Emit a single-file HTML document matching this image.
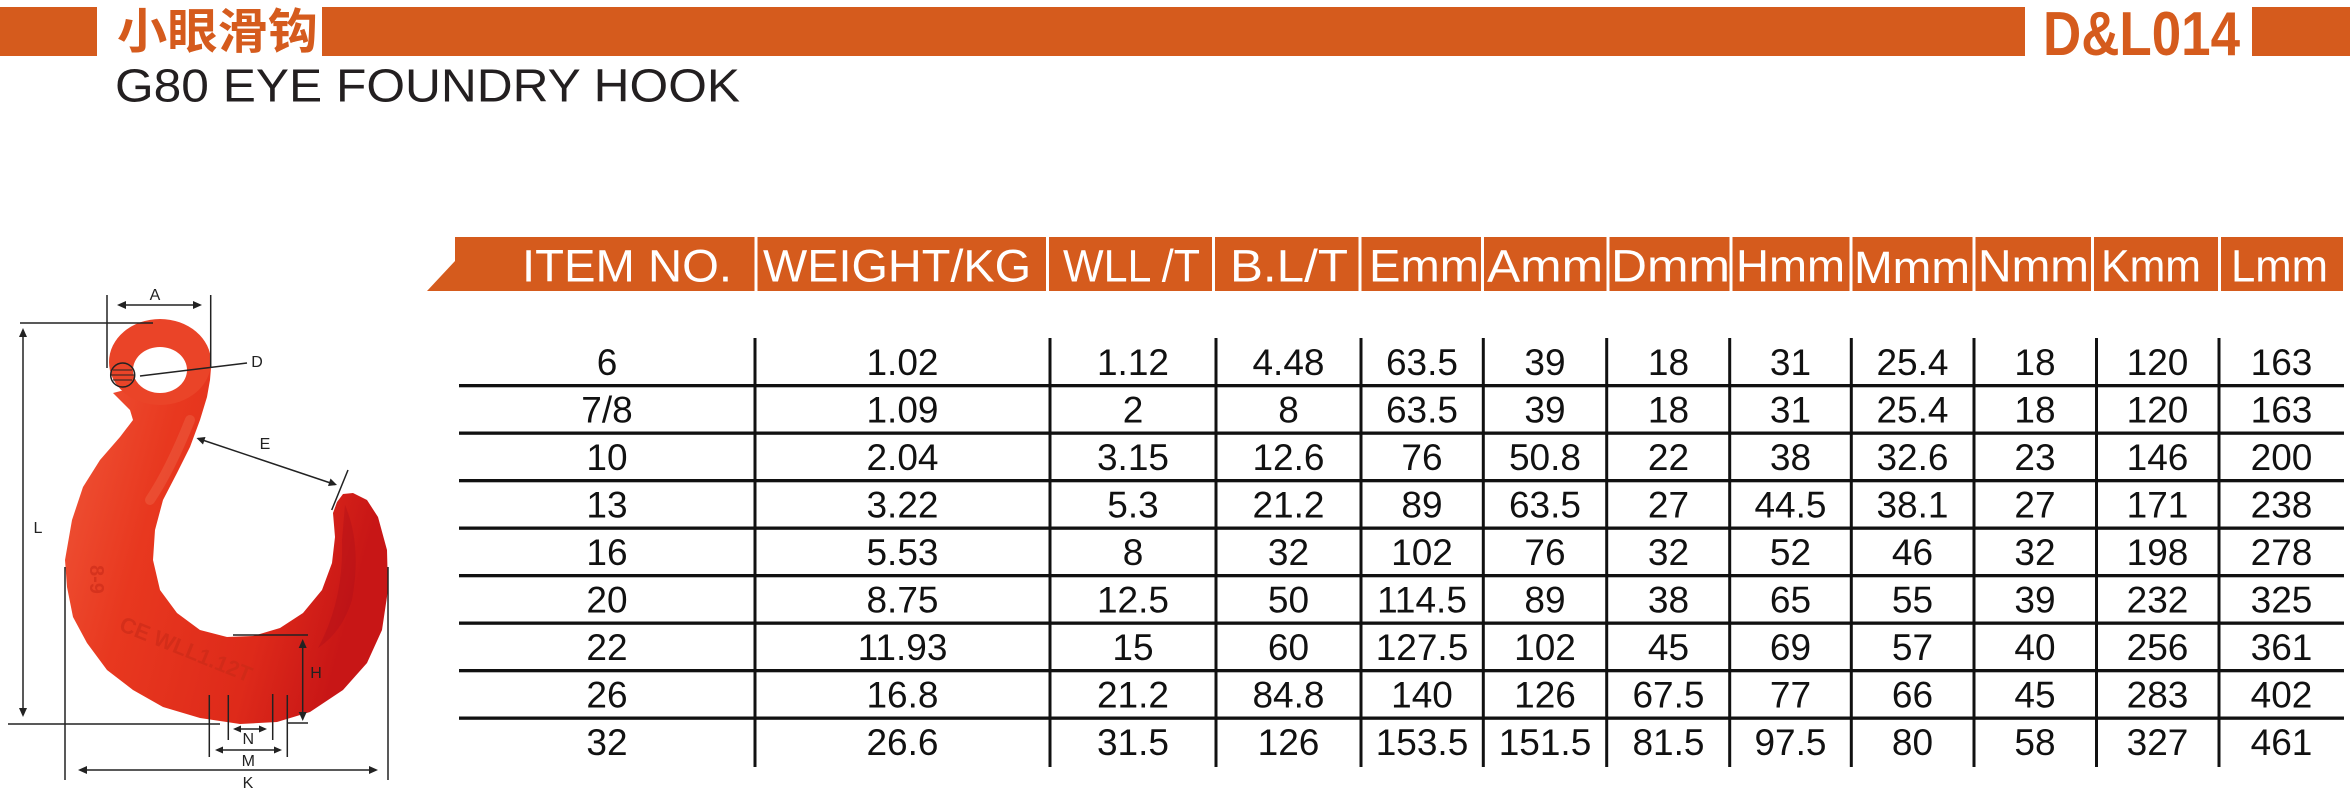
<!DOCTYPE html>
<html>
<head>
<meta charset="utf-8">
<style>
  html,body{margin:0;padding:0;background:#fff;}
  body{width:2350px;height:802px;overflow:hidden;}
  svg{display:block;}
  .hd{font-family:"Liberation Sans",sans-serif;font-size:45px;fill:#fff;}
  .bd{font-family:"Liberation Sans",sans-serif;font-size:37px;fill:#111;text-anchor:middle;}
  .lb{font-family:"Liberation Sans",sans-serif;font-size:16px;fill:#222;text-anchor:middle;}
</style>
</head>
<body>
<svg width="2350" height="802" viewBox="0 0 2350 802" xmlns="http://www.w3.org/2000/svg">
  <defs>
    <linearGradient id="hg" x1="0" y1="0" x2="1" y2="0.3">
      <stop offset="0" stop-color="#f0583a"/>
      <stop offset="0.35" stop-color="#e8381f"/>
      <stop offset="0.75" stop-color="#de2a1a"/>
      <stop offset="1" stop-color="#c81616"/>
    </linearGradient>
  </defs>

  <!-- top bar -->
  <rect x="0" y="7" width="97" height="49" fill="#d55b1d"/>
  <text x="117" y="48" font-family="'Liberation Sans','Noto Sans CJK SC',sans-serif" font-weight="700" font-size="48" fill="#d55b1d" textLength="201" lengthAdjust="spacingAndGlyphs">小眼滑钩</text>
  <rect x="322" y="7" width="1703" height="49" fill="#d55b1d"/>
  <text x="2043" y="55" font-family="'Liberation Sans',sans-serif" font-weight="700" font-size="62" fill="#d55b1d" textLength="197" lengthAdjust="spacingAndGlyphs">D&amp;L014</text>
  <rect x="2252" y="7" width="98" height="49" fill="#d55b1d"/>

  <text x="115" y="101.5" font-family="'Liberation Sans',sans-serif" font-size="46" fill="#231f20" textLength="625" lengthAdjust="spacingAndGlyphs">G80 EYE FOUNDRY HOOK</text>

  <!-- table header -->
  <path d="M455,237 H2343 V291 H427 L455,261 Z" fill="#d55b1d"/>
  <g fill="#fff">
    <rect x="754.5" y="237" width="3" height="54"/>
    <rect x="1046" y="237" width="3" height="54"/>
    <rect x="1212" y="237" width="3" height="54"/>
    <rect x="1358.5" y="237" width="3" height="54"/>
    <rect x="1481" y="237" width="3" height="54"/>
    <rect x="1606.5" y="237" width="3" height="54"/>
    <rect x="1729.5" y="237" width="3" height="54"/>
    <rect x="1849.5" y="237" width="3" height="54"/>
    <rect x="1972.5" y="237" width="3" height="54"/>
    <rect x="2091" y="237" width="3" height="54"/>
    <rect x="2218" y="237" width="3" height="54"/>
  </g>
  <g class="hd">
    <text x="522" y="281.5" textLength="210" lengthAdjust="spacingAndGlyphs">ITEM NO.</text>
    <text x="763" y="281.5" textLength="268" lengthAdjust="spacingAndGlyphs">WEIGHT/KG</text>
    <text x="1063" y="281.5" textLength="137" lengthAdjust="spacingAndGlyphs">WLL /T</text>
    <text x="1230" y="281.5" textLength="118" lengthAdjust="spacingAndGlyphs">B.L/T</text>
    <text x="1369" y="281.5" textLength="110" lengthAdjust="spacingAndGlyphs">Emm</text>
    <text x="1487" y="281.5" textLength="116" lengthAdjust="spacingAndGlyphs">Amm</text>
    <text x="1611" y="281.5" textLength="119" lengthAdjust="spacingAndGlyphs">Dmm</text>
    <text x="1736" y="281.5" textLength="109" lengthAdjust="spacingAndGlyphs">Hmm</text>
    <text x="1854" y="283" textLength="116" lengthAdjust="spacingAndGlyphs">Mmm</text>
    <text x="1978" y="281.5" textLength="111" lengthAdjust="spacingAndGlyphs">Nmm</text>
    <text x="2101" y="281.5" textLength="100" lengthAdjust="spacingAndGlyphs">Kmm</text>
    <text x="2231" y="281.5" textLength="97" lengthAdjust="spacingAndGlyphs">Lmm</text>
  </g>

  <!-- table grid -->
  <g fill="#111">
    <rect x="459" y="384" width="1885" height="3.3"/>
    <rect x="459" y="431.5" width="1885" height="3.3"/>
    <rect x="459" y="479" width="1885" height="3.3"/>
    <rect x="459" y="526.5" width="1885" height="3.3"/>
    <rect x="459" y="574" width="1885" height="3.3"/>
    <rect x="459" y="621.5" width="1885" height="3.3"/>
    <rect x="459" y="669" width="1885" height="3.3"/>
    <rect x="459" y="716.5" width="1885" height="3.3"/>

    <rect x="753.5" y="338" width="3" height="429"/>
    <rect x="1048.5" y="338" width="3" height="429"/>
    <rect x="1214.5" y="338" width="3" height="429"/>
    <rect x="1359.5" y="338" width="3" height="429"/>
    <rect x="1481.8" y="338" width="3" height="429"/>
    <rect x="1605.2" y="338" width="3" height="429"/>
    <rect x="1728.2" y="338" width="3" height="429"/>
    <rect x="1849.8" y="338" width="3" height="429"/>
    <rect x="1972.5" y="338" width="3" height="429"/>
    <rect x="2095" y="338" width="3" height="429"/>
    <rect x="2217.5" y="338" width="3" height="429"/>
  </g>

  <!-- table body -->
  <g class="bd">
    <g transform="translate(0,375)">
      <text x="607">6</text><text x="902.5">1.02</text><text x="1133">1.12</text><text x="1288.5">4.48</text><text x="1422">63.5</text><text x="1545">39</text><text x="1668.5">18</text><text x="1790.5">31</text><text x="1912.5">25.4</text><text x="2035">18</text><text x="2157.5">120</text><text x="2281.5">163</text>
    </g>
    <g transform="translate(0,422.5)">
      <text x="607">7/8</text><text x="902.5">1.09</text><text x="1133">2</text><text x="1288.5">8</text><text x="1422">63.5</text><text x="1545">39</text><text x="1668.5">18</text><text x="1790.5">31</text><text x="1912.5">25.4</text><text x="2035">18</text><text x="2157.5">120</text><text x="2281.5">163</text>
    </g>
    <g transform="translate(0,470)">
      <text x="607">10</text><text x="902.5">2.04</text><text x="1133">3.15</text><text x="1288.5">12.6</text><text x="1422">76</text><text x="1545">50.8</text><text x="1668.5">22</text><text x="1790.5">38</text><text x="1912.5">32.6</text><text x="2035">23</text><text x="2157.5">146</text><text x="2281.5">200</text>
    </g>
    <g transform="translate(0,517.5)">
      <text x="607">13</text><text x="902.5">3.22</text><text x="1133">5.3</text><text x="1288.5">21.2</text><text x="1422">89</text><text x="1545">63.5</text><text x="1668.5">27</text><text x="1790.5">44.5</text><text x="1912.5">38.1</text><text x="2035">27</text><text x="2157.5">171</text><text x="2281.5">238</text>
    </g>
    <g transform="translate(0,565)">
      <text x="607">16</text><text x="902.5">5.53</text><text x="1133">8</text><text x="1288.5">32</text><text x="1422">102</text><text x="1545">76</text><text x="1668.5">32</text><text x="1790.5">52</text><text x="1912.5">46</text><text x="2035">32</text><text x="2157.5">198</text><text x="2281.5">278</text>
    </g>
    <g transform="translate(0,612.5)">
      <text x="607">20</text><text x="902.5">8.75</text><text x="1133">12.5</text><text x="1288.5">50</text><text x="1422">114.5</text><text x="1545">89</text><text x="1668.5">38</text><text x="1790.5">65</text><text x="1912.5">55</text><text x="2035">39</text><text x="2157.5">232</text><text x="2281.5">325</text>
    </g>
    <g transform="translate(0,660)">
      <text x="607">22</text><text x="902.5">11.93</text><text x="1133">15</text><text x="1288.5">60</text><text x="1422">127.5</text><text x="1545">102</text><text x="1668.5">45</text><text x="1790.5">69</text><text x="1912.5">57</text><text x="2035">40</text><text x="2157.5">256</text><text x="2281.5">361</text>
    </g>
    <g transform="translate(0,707.5)">
      <text x="607">26</text><text x="902.5">16.8</text><text x="1133">21.2</text><text x="1288.5">84.8</text><text x="1422">140</text><text x="1545">126</text><text x="1668.5">67.5</text><text x="1790.5">77</text><text x="1912.5">66</text><text x="2035">45</text><text x="2157.5">283</text><text x="2281.5">402</text>
    </g>
    <g transform="translate(0,755)">
      <text x="607">32</text><text x="902.5">26.6</text><text x="1133">31.5</text><text x="1288.5">126</text><text x="1422">153.5</text><text x="1545">151.5</text><text x="1668.5">81.5</text><text x="1790.5">97.5</text><text x="1912.5">80</text><text x="2035">58</text><text x="2157.5">327</text><text x="2281.5">461</text>
    </g>
  </g>

  <!-- hook drawing -->
  <g>
    <path fill="url(#hg)" d="M113,393 L130,410 L133,420 L120,437 L100,460 L83,487 L72,520 L65,560 L67,587 L73,617 L87,643 L107,670 L133,690 L163,707 L200,718 L240,724 L277,722 L310,712 L343,690 L367,663 L382,630 L388,590 L387,550 L378,517 L367,500 L353,493 L343,494 L337,502 L333,513 L335,537 L332,563 L322,590 L303,613 L280,628 L253,636 L227,637 L200,630 L177,613 L160,590 L153,560 L155,530 L163,500 L177,473 L190,447 L200,420 L207,397 L210,380 L211,368 Z"/>
    <ellipse cx="160" cy="362" rx="51" ry="43" fill="#ea4428"/>
    <ellipse cx="160" cy="370" rx="27" ry="23" fill="#fff"/>
    <!-- subtle shading -->
    <path d="M190,420 Q170,470 150,500" stroke="#f27352" stroke-width="10" fill="none" opacity="0.35" stroke-linecap="round"/>
    <path d="M345,505 Q362,545 352,600 Q342,632 318,648 Q344,600 342,540 Z" fill="#b0101a" opacity="0.4"/>
    <text x="0" y="0" font-family="'Liberation Sans',sans-serif" font-size="20" font-weight="700" fill="#c92a18" opacity="0.6" transform="translate(90,565) rotate(90)">8-9</text>
    <text x="0" y="0" font-family="'Liberation Sans',sans-serif" font-size="22" font-weight="700" fill="#c92a18" opacity="0.6" transform="translate(118,630) rotate(22)">CE WLL1.12T</text>
  </g>

  <!-- dimension lines -->
  <g stroke="#222" stroke-width="1.5" fill="none">
    <line x1="20" y1="323" x2="153" y2="323"/>
    <line x1="23" y1="330" x2="23" y2="715"/>
    <line x1="8" y1="724" x2="220" y2="724"/>
    <line x1="287" y1="723" x2="308" y2="723"/>
    <line x1="107" y1="295" x2="107" y2="368"/>
    <line x1="210.7" y1="295" x2="210.7" y2="367"/>
    <line x1="119" y1="305" x2="200" y2="305"/>
    <line x1="140" y1="376" x2="247" y2="363"/>
    <circle cx="122.7" cy="375" r="12"/>
    <line x1="198" y1="438.5" x2="335" y2="484.5"/>
    <line x1="348" y1="470" x2="331.7" y2="510"/>
    <line x1="65" y1="567" x2="65" y2="780"/>
    <line x1="388" y1="567" x2="388" y2="780"/>
    <line x1="80" y1="770" x2="376" y2="770"/>
    <line x1="233" y1="635" x2="308" y2="635"/>
    <line x1="302.7" y1="641" x2="302.7" y2="719"/>
    <line x1="209.3" y1="695" x2="209.3" y2="757"/>
    <line x1="228.3" y1="695" x2="228.3" y2="740"/>
    <line x1="272.7" y1="694" x2="272.7" y2="740"/>
    <line x1="287.3" y1="695" x2="287.3" y2="757"/>
    <line x1="235" y1="729" x2="265" y2="729"/>
    <line x1="217" y1="750" x2="280" y2="750"/>
  </g>
  <g stroke="#222" stroke-width="1" fill="none">
    <line x1="113" y1="370" x2="132" y2="370"/>
    <line x1="111" y1="375" x2="134" y2="375"/>
    <line x1="113" y1="380" x2="132" y2="380"/>
  </g>
  <g fill="#222">
    <path d="M23,328 l-4,9 h8 z"/>
    <path d="M23,717 l-4,-9 h8 z"/>
    <path d="M117,305 l9,-4 v8 z"/>
    <path d="M202,305 l-9,-4 v8 z"/>
    <path d="M196.5,438 l9,-1 l-2.5,7.5 z"/>
    <path d="M337,485 l-9,1 l2.5,-7.5 z"/>
    <path d="M78,770 l9,-4 v8 z"/>
    <path d="M378,770 l-9,-4 v8 z"/>
    <path d="M302.7,639 l-4,9 h8 z"/>
    <path d="M302.7,721 l-4,-9 h8 z"/>
    <path d="M233,729 l8,-3.5 v7 z"/>
    <path d="M267,729 l-8,-3.5 v7 z"/>
    <path d="M215,750 l8,-3.5 v7 z"/>
    <path d="M282,750 l-8,-3.5 v7 z"/>
  </g>
  <g class="lb">
    <text x="155" y="300">A</text>
    <text x="257" y="367">D</text>
    <text x="265" y="449">E</text>
    <text x="38" y="533">L</text>
    <text x="316" y="678">H</text>
    <text x="248.3" y="744">N</text>
    <text x="248.3" y="766">M</text>
    <text x="248" y="788">K</text>
  </g>
</svg>
</body>
</html>
